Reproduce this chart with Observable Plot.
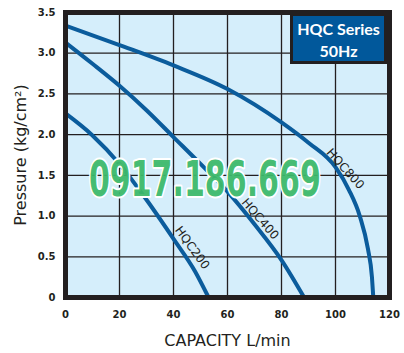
<!DOCTYPE html>
<html>
<head>
<meta charset="utf-8">
<script src="https://cdn.jsdelivr.net/npm/d3@7"></script>
<script src="https://cdn.jsdelivr.net/npm/@observablehq/plot@0.6"></script>
<style>
  html, body { margin: 0; padding: 0; background: #ffffff; }
  #wrap { position: relative; width: 404px; height: 353px; overflow: hidden; }
  #legend {
    position: absolute; left: 290px; top: 13px; width: 97px; height: 51px;
    box-sizing: border-box; background: #01589b; border: 3px solid #231f20;
    color: #ffffff; font-family: Lato, "Open Sans", sans-serif; font-weight: 700;
    font-size: 16px; line-height: 22px; text-align: center; padding-top: 2px;
  }
</style>
</head>
<body>
<div id="wrap"></div>
<script>
// ---- data ----
const models = ["HQC200", "HQC400", "HQC800"];
const capacityHQC200 = [0, 10, 20, 30, 40, 48, 53];
const pressureHQC200 = [2.26, 1.99, 1.64, 1.2, 0.72, 0.32, 0];
const capacityHQC400 = [0, 10, 20, 30, 40, 50, 60, 70, 80, 88.4];
const pressureHQC400 = [3.13, 2.87, 2.6, 2.3, 1.97, 1.64, 1.3, 0.9, 0.46, 0];
const capacityHQC800 = [0, 20, 40, 60, 80, 90, 100, 105, 109, 112, 113.5, 114];
const pressureHQC800 = [3.34, 3.1, 2.85, 2.56, 2.15, 1.9, 1.6, 1.32, 1.0, 0.6, 0.25, 0];

const xTicks = [0, 20, 40, 60, 80, 100, 120];
const yTicks = [0, 0.5, 1.0, 1.5, 2.0, 2.5, 3.0, 3.5];
const xTitle = "CAPACITY L/min";
const yTitle = "Pressure (kg/cm²)";
const legendLines = ["HQC Series", "50Hz"];
const watermark = "0917.186.669";

// curve label annotations (label text, anchor in data units, rotation)
const labelNames = ["HQC200", "HQC400", "HQC800"];
const labelCapacity = [46.9, 72.1, 103.6];
const labelPressure = [0.61, 0.965, 1.58];
const labelAngle = [54, 49, 48];

// ---- build tables ----
const series = {
  HQC200: [capacityHQC200, pressureHQC200],
  HQC400: [capacityHQC400, pressureHQC400],
  HQC800: [capacityHQC800, pressureHQC800]
};
const rows = models.flatMap(m => series[m][0].map((c, i) => ({model: m, capacity: c, pressure: series[m][1][i]})));
const labels = labelNames.map((t, i) => ({text: t, capacity: labelCapacity[i], pressure: labelPressure[i], angle: labelAngle[i]}));

const ink = "#231f20";
const curveColor = "#0b5c9c";
const W = 404, ML = 65, MR = 15, wmDx = -17;

const chart = Plot.plot({
  width: W,
  height: 353,
  marginLeft: ML,
  marginRight: MR,
  marginTop: 12,
  marginBottom: 56,
  style: {fontFamily: "DejaVu Sans, sans-serif", color: ink, background: "transparent", overflow: "visible"},
  x: {domain: [0, 120]},
  y: {domain: [0, 3.5]},
  marks: [
    Plot.frame({fill: "#d5eefb", stroke: null}),
    Plot.gridX({ticks: xTicks, stroke: ink, strokeOpacity: 1, strokeWidth: 1.3}),
    Plot.gridY({ticks: yTicks, stroke: ink, strokeOpacity: 1, strokeWidth: 1.3}),
    Plot.line(rows, {x: "capacity", y: "pressure", z: "model", stroke: curveColor, strokeWidth: 4, curve: "monotone-x"}),
    Plot.text(labels, {x: "capacity", y: "pressure", text: "text", rotate: "angle", fontSize: 12, fill: ink}),
    Plot.text([watermark], {frameAnchor: "middle", dx: wmDx, dy: 25, text: d => d, fontSize: 50, fontWeight: "bold",
      textAnchor: "middle", lineAnchor: "middle",
      fontFamily: "Liberation Sans Narrow, DejaVu Sans Condensed, sans-serif", fill: "#3cb96a", stroke: "#ffffff",
      strokeWidth: 4, paintOrder: "stroke", fillOpacity: 0.95}),
    Plot.frame({stroke: ink, strokeWidth: 5}),
    Plot.axisX({ticks: xTicks, tickSize: 0, tickPadding: 13, fontSize: 10, fontWeight: "bold", label: null, fill: ink}),
    Plot.axisY({ticks: yTicks, tickSize: 0, tickPadding: 10, fontSize: 10, fontWeight: "bold", label: null, fill: ink,
      tickFormat: d => d === 0 ? "0" : d.toFixed(1)}),
    Plot.text([xTitle], {frameAnchor: "bottom", dy: 43, text: d => d, fontSize: 16, fill: ink,
      textAnchor: "middle", lineAnchor: "middle"}),
    Plot.text([yTitle], {frameAnchor: "left", dx: -45, rotate: -90, text: d => d, fontSize: 16, fill: ink,
      textAnchor: "middle", lineAnchor: "middle"})
  ]
});

const wrap = document.getElementById("wrap");
wrap.appendChild(chart);

// squeeze the condensed watermark horizontally around its centre
const cx = ML + (W - ML - MR) / 2 + wmDx;
chart.querySelectorAll("text").forEach(t => {
  if (t.textContent === watermark) {
    const natural = t.getComputedTextLength();
    const s = Math.min(1, 232 / natural);
    const old = t.getAttribute("transform") || "";
    t.setAttribute("transform", `translate(${cx},0) scale(${s},1) translate(${-cx},0) ${old}`);
  }
});

const legend = document.createElement("div");
legend.id = "legend";
legend.innerHTML = legendLines.join("<br>");
wrap.appendChild(legend);
</script>
</body>
</html>
